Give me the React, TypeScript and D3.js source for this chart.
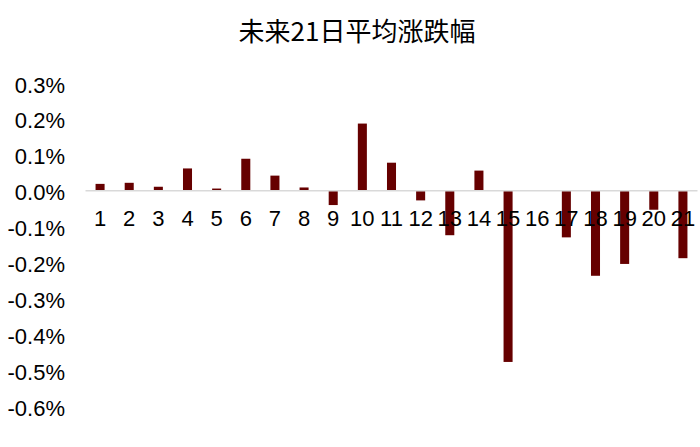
import { useEffect, useRef } from "react";
import * as d3 from "d3";

const days = d3.range(1, 22).map(String);
const avgChange = [
  0.019, 0.022, 0.011, 0.062, 0.006, 0.089, 0.042, 0.009, -0.04, 0.187, 0.078,
  -0.027, -0.124, 0.056, -0.477, 0.001, -0.13, -0.237, -0.204, -0.053, -0.188,
];
const yTicks = [0.3, 0.2, 0.1, 0, -0.1, -0.2, -0.3, -0.4, -0.5, -0.6];
const title = "未来21日平均涨跌幅";

export default function App() {
  const ref = useRef<SVGSVGElement | null>(null);
  const width = 700;
  const height = 447;

  useEffect(() => {
    const svg = d3.select(ref.current);
    svg.selectAll("*").remove();

    const font = "Arial, 'Liberation Sans', sans-serif";
    const x = d3.scaleBand<string>().domain(days).range([85.5, 697.5]).paddingInner(0.69).paddingOuter(0.345);
    const y = d3.scaleLinear().domain([-0.6, 0.3]).range([406.1, 83.0]);
    // hyphen minus like the original, not d3's unicode minus
    const fmt = (d: number) => d3.format(".1f")(d).replace("−", "-") + "%";

    svg.append("text")
      .attr("x", 357)
      .attr("y", 41)
      .attr("text-anchor", "middle")
      .attr("font-family", "'Noto Sans CJK SC', sans-serif")
      .attr("font-size", "26px")
      .attr("fill", "#000")
      .text(title);

    svg.append("g")
      .selectAll("text")
      .data(yTicks)
      .enter()
      .append("text")
      .attr("x", 65)
      .attr("y", (d) => y(d) + 9.5)
      .attr("text-anchor", "end")
      .attr("font-family", font)
      .attr("font-size", "22px")
      .attr("fill", "#000")
      .text(fmt);

    svg.append("g")
      .selectAll("rect")
      .data(avgChange)
      .enter()
      .append("rect")
      .attr("x", (d, i) => x(days[i]) as number)
      .attr("width", x.bandwidth())
      .attr("y", (d) => y(Math.max(0, d)))
      .attr("height", (d) => Math.abs(y(d) - y(0)))
      .attr("fill", "#660000");

    svg.append("line")
      .attr("x1", 85.5)
      .attr("x2", 697.5)
      .attr("y1", y(0))
      .attr("y2", y(0))
      .attr("stroke", "#d9d9d9")
      .attr("stroke-width", 1.5);

    svg.append("g")
      .selectAll("text")
      .data(days)
      .enter()
      .append("text")
      .attr("x", (d) => (x(d) as number) + x.bandwidth() / 2)
      .attr("y", 225.5)
      .attr("text-anchor", "middle")
      .attr("font-family", font)
      .attr("font-size", "22px")
      .attr("fill", "#000")
      .text((d) => d);
  }, []);

  return (
    <svg
      ref={ref}
      width={width}
      height={height}
      style={{ position: "absolute", left: 0, top: 0, background: "#fff" }}
    ></svg>
  );
}
